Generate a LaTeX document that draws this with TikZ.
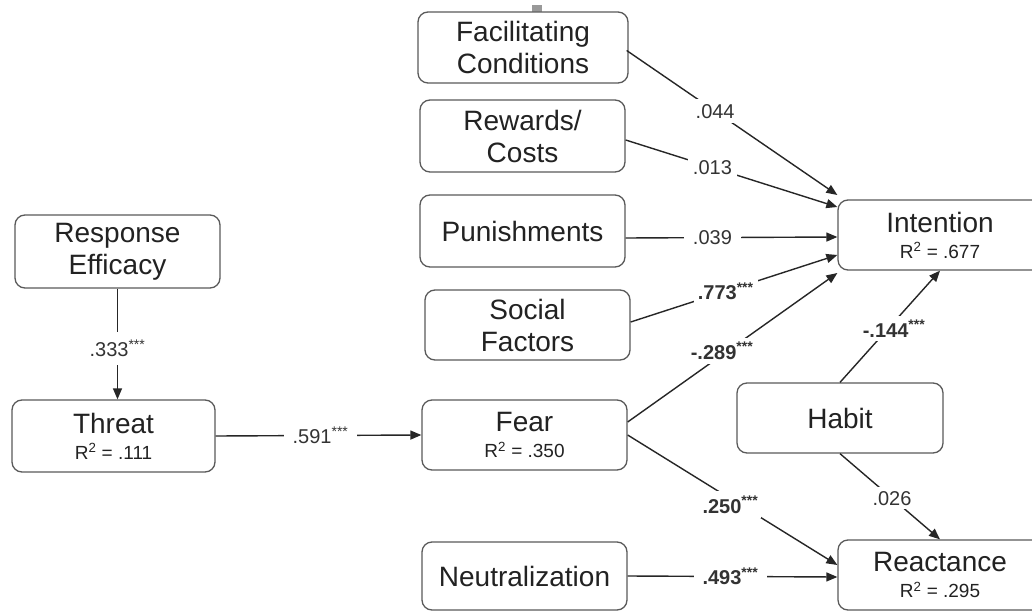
\documentclass[tikz,border=0pt]{standalone}
\usepackage{fontspec}
\setmainfont{Liberation Sans}
\usetikzlibrary{arrows.meta,calc}
\definecolor{boxline}{HTML}{5A5A5A}
\definecolor{txt}{HTML}{222222}
\definecolor{lbl}{HTML}{333333}
\newcommand{\stars}{\textsuperscript{***}}
\newcommand{\rsq}[1]{{\fontsize{19}{20}\selectfont R\textsuperscript{2} = #1}}
\begin{document}
\begin{tikzpicture}[x=1pt,y=-1pt,
  box/.style={draw=boxline,line width=1.3pt,rounded corners=10pt,fill=white,
    text=txt,align=center,inner sep=0pt,font=\fontsize{28}{32}\selectfont},
  conn/.style={draw=black!85,line width=1.4pt},
  arr/.style={conn,-{Triangle[length=11pt,width=9pt]}},
  lab/.style={fill=white,text=lbl,inner xsep=9pt,inner ysep=5pt,font=\fontsize{20}{22}\selectfont},
  blab/.style={lab,font=\fontsize{20}{22}\selectfont\bfseries}]
\useasboundingbox (0,0) rectangle (1032,612);
\fill[white] (0,0) rectangle (1032,612);
\fill[gray!80] (532,5) rectangle (542,12);
% boxes
\node[box,minimum width=210,minimum height=71] (fc) at (523,47.5) {Facilitating\\Conditions};
\node[box,minimum width=205,minimum height=72] (rc) at (522.5,136) {Rewards/\\Costs};
\node[box,minimum width=205,minimum height=72] (pun) at (522.5,231) {Punishments};
\node[box,minimum width=205,minimum height=70] (sf) at (527.5,325) {Social\\Factors};
\node[box,minimum width=205,minimum height=70] (fear) at (524.5,435) {Fear\\[-6pt]\rsq{.350}};
\node[box,minimum width=205,minimum height=68] (neut) at (524.5,576) {Neutralization};
\node[box,minimum width=205,minimum height=73] (re) at (117.5,251.5) {Response\\Efficacy};
\node[box,minimum width=203,minimum height=72] (threat) at (113.5,436) {Threat\\[-6pt]\rsq{.111}};
\node[box,minimum width=206,minimum height=70] (habit) at (840,418) {Habit};
\node[box,minimum width=204,minimum height=70] (int) at (940,235) {Intention\\[-6pt]\rsq{.677}};
\node[box,minimum width=204,minimum height=70] (react) at (940,575) {Reactance\\[-6pt]\rsq{.295}};
% connectors
\draw[arr] (re.south) -- node[lab,pos=0.54,inner xsep=2pt,inner ysep=8pt] (l1) {.333\stars} (re.south |- threat.north);
\draw[arr] (threat.east) -- node[lab,pos=0.51] (l2) {.591\stars} (fear.west);
\draw[arr] ($(fc.east)+(-2,3)$) -- node[lab,pos=0.42,inner xsep=4pt] (l3) {.044} ($(int.west)+(0,-40)$);
\draw[arr] ($(rc.east)+(0,4)$) -- node[lab,pos=0.41,inner xsep=5pt] (l4) {.013} ($(int.west)+(0,-28)$);
\draw[arr] ($(pun.east)+(0,7)$) -- node[lab,pos=0.41] (l5) {.039} ($(int.west)+(0,2)$);
\draw[arr] ($(sf.east)+(0,-3)$) -- node[blab,pos=0.46,inner xsep=4pt,inner ysep=3pt] (l6) {.773\stars} ($(int.west)+(0,20)$);
\draw[arr] ($(fear.east)+(0,-13)$) -- node[blab,pos=0.45,inner xsep=3pt,inner ysep=4pt,yshift=4pt] (l7) {-.289\stars} ($(int.west)+(0,38)$);
\draw[arr] (fear.east) -- node[blab,pos=0.49,inner xsep=3pt,inner ysep=5pt,yshift=-6pt] (l8) {.250\stars} ($(react.west)+(0,-10)$);
\draw[arr] (neut.east) -- node[blab,pos=0.49] (l9) {.493\stars} ($(react.west)+(0,2)$);
\draw[arr] (habit.north) -- node[blab,pos=0.48,inner xsep=2pt,inner ysep=4pt,xshift=6pt] (l10) {-.144\stars} (int.south);
\draw[arr] (habit.south) -- node[lab,pos=0.52,inner xsep=2pt,inner ysep=4pt] (l11) {.026} (react.north);
\end{tikzpicture}
\end{document}
